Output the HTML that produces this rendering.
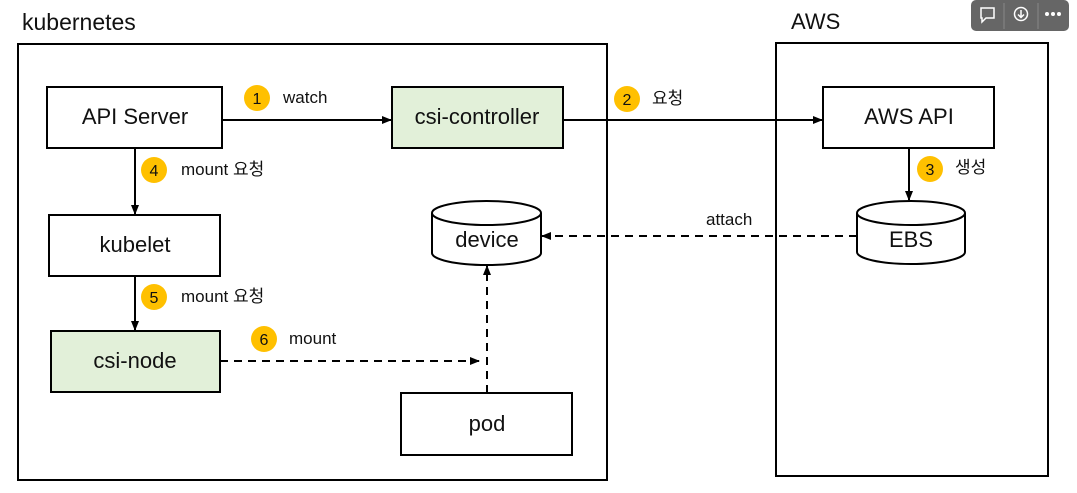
<!DOCTYPE html>
<html><head><meta charset="utf-8"><style>
body{margin:0;background:#fff;}
svg{display:block;font-family:"Liberation Sans","Noto Sans CJK KR",sans-serif;}
</style></head><body>
<svg width="1077" height="493" viewBox="0 0 1077 493">
<defs><marker id="a" markerWidth="10" markerHeight="8" refX="9" refY="4" orient="auto" markerUnits="userSpaceOnUse"><path d="M0,0 L10,4 L0,8 z" fill="#000"/></marker></defs>
<text x="22" y="30" font-size="23" fill="#111">kubernetes</text>
<text x="791" y="29" font-size="22" fill="#111">AWS</text>
<rect x="18" y="44" width="589" height="436" fill="none" stroke="#000" stroke-width="2"/>
<rect x="776" y="43" width="272" height="433" fill="none" stroke="#000" stroke-width="2"/>
<g stroke="#000" stroke-width="2">
<rect x="47" y="87" width="175" height="61" fill="#fff"/>
<rect x="392" y="87" width="171" height="61" fill="#e2f0d9"/>
<rect x="823" y="87" width="171" height="61" fill="#fff"/>
<rect x="49" y="215" width="171" height="61" fill="#fff"/>
<rect x="51" y="331" width="169" height="61" fill="#e2f0d9"/>
<rect x="401" y="393" width="171" height="62" fill="#fff"/>
<path d="M432,213 v40 a54.5,12 0 0 0 109,0 v-40" fill="#fff"/>
<ellipse cx="486.5" cy="213" rx="54.5" ry="12" fill="#fff"/>
<path d="M857,213 v39 a54,12 0 0 0 108,0 v-39" fill="#fff"/>
<ellipse cx="911" cy="213" rx="54" ry="12" fill="#fff"/>
</g>
<g stroke="#000" stroke-width="2" fill="none">
<line x1="222" y1="120" x2="391" y2="120" marker-end="url(#a)"/>
<line x1="563" y1="120" x2="822" y2="120" marker-end="url(#a)"/>
<line x1="909" y1="148" x2="909" y2="200" marker-end="url(#a)"/>
<line x1="135" y1="148" x2="135" y2="214" marker-end="url(#a)"/>
<line x1="135" y1="276" x2="135" y2="330" marker-end="url(#a)"/>
<line x1="220" y1="361" x2="479" y2="361" stroke-dasharray="8,6" marker-end="url(#a)"/>
<line x1="487" y1="393" x2="487" y2="266" stroke-dasharray="8,6" marker-end="url(#a)"/>
<line x1="857" y1="236" x2="542" y2="236" stroke-dasharray="8,6" marker-end="url(#a)"/>
</g>
<g font-size="22" text-anchor="middle" fill="#111">
<text x="135" y="124">API Server</text>
<text x="477" y="124">csi-controller</text>
<text x="909" y="124">AWS API</text>
<text x="135" y="252">kubelet</text>
<text x="135" y="368">csi-node</text>
<text x="487" y="431">pod</text>
<text x="487" y="247">device</text>
<text x="911" y="247">EBS</text>
</g>
<g fill="#ffc000"><circle cx="257" cy="98" r="13"/><circle cx="627" cy="99" r="13"/><circle cx="930" cy="169" r="13"/><circle cx="154" cy="170" r="13"/><circle cx="154" cy="297" r="13"/><circle cx="264" cy="339" r="13"/></g>
<g font-size="16" text-anchor="middle" fill="#111">
<text x="257" y="104">1</text><text x="627" y="105">2</text><text x="930" y="175">3</text><text x="154" y="176">4</text><text x="154" y="303">5</text><text x="264" y="345">6</text>
</g>
<g font-size="17" fill="#111">
<text x="283" y="103">watch</text>
<text x="652" y="104">요청</text>
<text x="955" y="173">생성</text>
<text x="181" y="175">mount 요청</text>
<text x="181" y="302">mount 요청</text>
<text x="289" y="344">mount</text>
<text x="706" y="225">attach</text>
</g>
<rect x="971" y="0" width="98" height="31" rx="5" fill="#666"/>
<line x1="1004" y1="3" x2="1004" y2="29" stroke="#888"/>
<line x1="1038" y1="3" x2="1038" y2="29" stroke="#888"/>
<path d="M981,8 h13 v10 h-8 l-4,4 v-4 h-1 z" fill="none" stroke="#fff" stroke-width="1.5"/>
<circle cx="1021" cy="14" r="6.5" fill="none" stroke="#fff" stroke-width="1.5"/>
<path d="M1021,10 v7 M1018,14.5 l3,3 l3,-3" fill="none" stroke="#fff" stroke-width="1.5"/>
<g fill="#fff"><circle cx="1047" cy="14" r="2"/><circle cx="1053" cy="14" r="2"/><circle cx="1059" cy="14" r="2"/></g>
</svg>
</body></html>
